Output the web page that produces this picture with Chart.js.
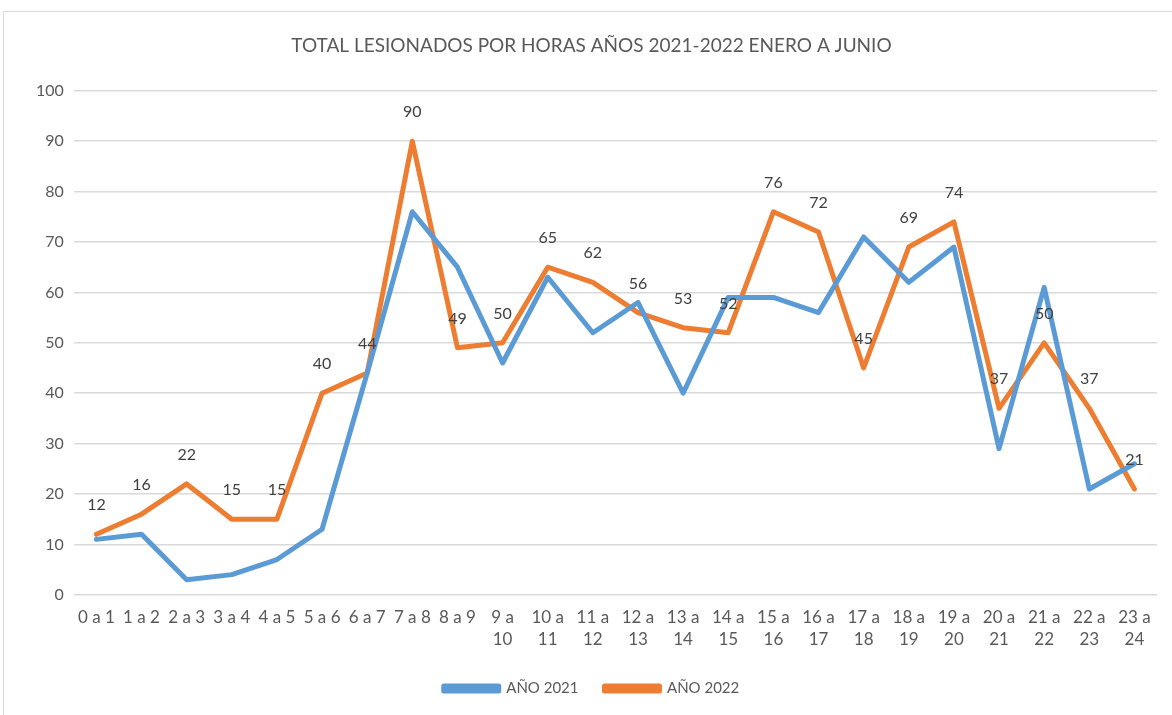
<!DOCTYPE html>
<html>
<head>
<meta charset="utf-8">
<script src="https://cdn.jsdelivr.net/npm/chart.js@4.4.1/dist/chart.umd.min.js"></script>
<style>
  html, body { margin:0; padding:0; background:#fff; }
  #frame { position:absolute; left:3px; top:11px; width:1180px; height:720px; border:1px solid #d9d9d9; box-sizing:border-box; }
  #wrap { position:absolute; left:0; top:0; width:1172px; height:715px; }
</style>
</head>
<body>
<div id="frame"></div>
<div id="wrap"><canvas id="c" width="1172" height="715"></canvas></div>
<script>
const categories = [
  "0 a 1","1 a 2","2 a 3","3 a 4","4 a 5","5 a 6","6 a 7","7 a 8","8 a 9",
  ["9 a","10"],["10 a","11"],["11 a","12"],["12 a","13"],["13 a","14"],["14 a","15"],
  ["15 a","16"],["16 a","17"],["17 a","18"],["18 a","19"],["19 a","20"],["20 a","21"],
  ["21 a","22"],["22 a","23"],["23 a","24"]
];
const year2021 = [11,12,3,4,7,13,44,76,65,46,63,52,58,40,59,59,56,71,62,69,29,61,21,26];
const year2022 = [12,16,22,15,15,40,44,90,49,50,65,62,56,53,52,76,72,45,69,74,37,50,37,21];
const seriesNames = ["AÑO 2021","AÑO 2022"];
const titleText = "TOTAL LESIONADOS POR HORAS AÑOS 2021-2022 ENERO A JUNIO";

const FONT = "Lato, 'Open Sans', sans-serif";

const dataLabels = {
  id: 'dataLabels',
  afterDatasetsDraw(chart) {
    const ctx = chart.ctx;
    const meta = chart.getDatasetMeta(1);
    ctx.save();
    ctx.font = "16px " + FONT;
    ctx.fillStyle = "#404040";
    ctx.textAlign = "center";
    ctx.textBaseline = "middle";
    meta.data.forEach((pt, i) => {
      ctx.fillText(String(chart.data.datasets[1].data[i]), pt.x, pt.y - 29);
    });
    ctx.restore();
  }
};

new Chart(document.getElementById('c'), {
  type: 'line',
  data: {
    labels: categories,
    datasets: [
      { label: seriesNames[0], data: year2021, borderColor: '#5B9BD5', backgroundColor: '#5B9BD5',
        borderWidth: 5, pointRadius: 0, tension: 0, borderJoinStyle: 'round', borderCapStyle: 'round' },
      { label: seriesNames[1], data: year2022, borderColor: '#ED7D31', backgroundColor: '#ED7D31',
        borderWidth: 5, pointRadius: 0, tension: 0, borderJoinStyle: 'round', borderCapStyle: 'round' }
    ]
  },
  options: {
    responsive: false,
    animation: false,
    layout: { padding: { left: 26, right: 15, top: 14, bottom: 9 } },
    plugins: {
      title: {
        display: true, text: titleText, color: '#595959',
        font: { family: FONT, size: 19, weight: 'normal' },
        padding: { top: 20, bottom: 34 }
      },
      legend: {
        position: 'bottom',
        labels: {
          color: '#595959', font: { family: FONT, size: 15 },
          boxWidth: 55, boxHeight: 5, padding: 26
        }
      },
      tooltip: { enabled: false }
    },
    scales: {
      x: {
        offset: true,
        grid: { display: false },
        border: { display: false },
        ticks: { color: '#595959', font: { family: FONT, size: 17, lineHeight: 1.3 }, maxRotation: 0, autoSkip: false, padding: 4 }
      },
      y: {
        min: 0, max: 100,
        ticks: { stepSize: 10, color: '#595959', font: { family: FONT, size: 16 }, padding: 10 },
        grid: { color: '#d9d9d9', lineWidth: 1.5, drawTicks: false },
        border: { display: false }
      }
    }
  },
  plugins: [dataLabels]
});
</script>
</body>
</html>
